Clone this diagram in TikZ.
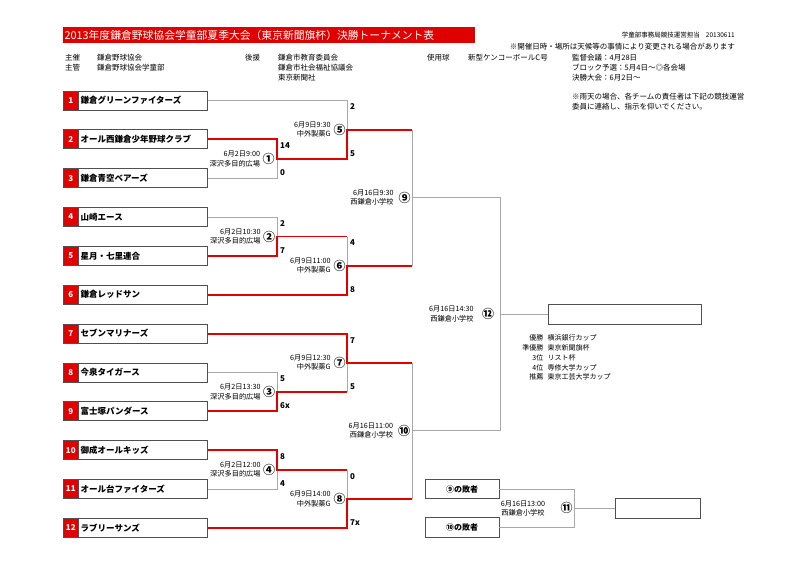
\documentclass[tikz,border=0pt]{standalone}
\usepackage{fontspec}
\setmainfont{Noto Sans CJK JP}
\usetikzlibrary{calc}
\definecolor{brk}{HTML}{E00000}
\definecolor{gln}{HTML}{A8A8A8}
\definecolor{bxl}{HTML}{505050}
\begin{document}
\begin{tikzpicture}[x=1pt,y=-1pt,
  teambox/.style={draw=bxl, line width=0.8pt, minimum width=144pt, minimum height=19pt, inner sep=0pt, anchor=west},
  numsq/.style={fill=brk, draw=bxl, line width=0.8pt, minimum width=15.5pt, minimum height=19pt, inner sep=0pt, text=white, font=\bfseries\fontsize{8}{8}\selectfont},
  tname/.style={anchor=west, inner sep=0pt, font=\bfseries\fontsize{8.5}{9}\selectfont},
  hd/.style={anchor=west, inner sep=0pt, font=\fontsize{7.5}{8}\selectfont},
  gl/.style={draw=gln, line width=0.9pt},
  rl/.style={draw=brk, line width=1.9pt},
  score/.style={anchor=west, inner sep=0pt, font=\bfseries\fontsize{8}{8}\selectfont},
  circ/.style={inner sep=0pt, font=\bfseries\fontsize{12}{12}\selectfont},
  dl/.style={anchor=east, inner sep=0pt, align=right, font=\fontsize{7.2}{9.5}\selectfont},
  plainbox/.style={draw=bxl, line width=0.8pt, inner sep=0pt},
  prl/.style={anchor=east, inner sep=0pt, font=\fontsize{7}{8}\selectfont},
  prv/.style={anchor=west, inner sep=0pt, font=\fontsize{7}{8}\selectfont}
]
\useasboundingbox[fill=white] (0,0) rectangle (800,566);

% title
\node[fill=brk, minimum width=412pt, minimum height=16pt, inner sep=0pt, anchor=north west] (titlebar) at (63,27) {};
\node[anchor=west, inner sep=0pt, text=white, font=\fontsize{10.8}{12}\selectfont] (title) at (64.5,35) {2013年度鎌倉野球協会学童部夏季大会（東京新聞旗杯）決勝トーナメント表};
\node[anchor=east, inner sep=0pt, font=\fontsize{6.5}{7}\selectfont] (staff) at (735,35) {学童部事務局競技運営担当\hspace{6pt}20130611};
\node[anchor=east, inner sep=0pt, font=\fontsize{7.5}{8}\selectfont] (note1) at (735,47) {※開催日時・場所は天候等の事情により変更される場合があります};

% header
\node[hd] (h1) at (65,58) {主催};
\node[hd] (h2) at (97,58) {鎌倉野球協会};
\node[hd] (h3) at (65,68) {主管};
\node[hd] (h4) at (97,68) {鎌倉野球協会学童部};
\node[hd] (h5) at (245,58) {後援};
\node[hd] (h6) at (278,58) {鎌倉市教育委員会};
\node[hd] (h7) at (278,68) {鎌倉市社会福祉協議会};
\node[hd] (h8) at (278,78) {東京新聞社};
\node[hd] (h9) at (427,58) {使用球};
\node[hd] (h10) at (468,58) {新型ケンコーボールC号};
\node[hd] (h11) at (572,58) {監督会議：4月28日};
\node[hd] (h12) at (572,68) {ブロック予選：5月4日～◎各会場};
\node[hd] (h13) at (572,78) {決勝大会：6月2日～};
\node[hd] (h14) at (572,97) {※雨天の場合、各チームの責任者は下記の競技運営};
\node[hd] (h15) at (572,107) {委員に連絡し、指示を仰いでください。};

% teams
\foreach \i/\nm in {1/鎌倉グリーンファイターズ, 2/オール西鎌倉少年野球クラブ, 3/鎌倉青空ベアーズ, 4/山崎エース, 5/星月・七里連合, 6/鎌倉レッドサン, 7/セブンマリナーズ, 8/今泉タイガース, 9/富士塚パンダース, 10/御成オールキッズ, 11/オール台ファイターズ, 12/ラブリーサンズ}{
  \pgfmathsetmacro{\yy}{100.5+(\i-1)*38.85}
  \node[teambox] (t\i) at (62.7,\yy) {};
  \node[numsq, anchor=west] (q\i) at (t\i.west) {\i};
  \node[tname] (n\i) at (80.5,\yy) {\nm};
}

% junctions
\coordinate (m1) at (277,158.8);
\coordinate (m2) at (277,236.5);
\coordinate (m3) at (277,391.9);
\coordinate (m4) at (277,469.6);
\coordinate (m5) at (347,129.6);
\coordinate (m6) at (347,265.6);
\coordinate (m7) at (347,362.7);
\coordinate (m8) at (347,498.7);
\coordinate (m9) at (412,197.6);
\coordinate (m10) at (412,430.7);
\coordinate (m12) at (500,314.2);
\coordinate (m11) at (574,508.3);

% boxes on the right
\node[plainbox, minimum width=153pt, minimum height=20pt] (w12) at (624.5,314.2) {};
\node[plainbox, minimum width=85pt, minimum height=20pt] (w11) at (657.5,508.3) {};
\node[plainbox, minimum width=74pt, minimum height=19.5pt, font=\bfseries\fontsize{8}{8}\selectfont] (l9) at (462,489) {⑨の敗者};
\node[plainbox, minimum width=74pt, minimum height=19.5pt, font=\bfseries\fontsize{8}{8}\selectfont] (l10) at (462,527.6) {⑩の敗者};

% grey lines
\draw[gl] (t1.east) -| (m5);
\draw[gl] (t3.east) -| (m1);
\draw[gl] (t4.east) -| (m2);
\draw[gl] (m2 -| m6) -- (m6);
\draw[gl] (t8.east) -| (m3);
\draw[gl] (m3 -| m7) -- (m7);
\draw[gl] (t11.east) -| (m4);
\draw[gl] (m4 -| m8) -- (m8);
\draw[gl] (m5 -| m9) -- (m6 -| m9);
\draw[gl] (m7 -| m10) -- (m8 -| m10);
\draw[gl] (m9) -| (m12);
\draw[gl] (m10) -| (m12);
\draw[gl] (m12) -- (w12.west);
\draw[gl] (l9.east) -| (m11);
\draw[gl] (l10.east) -| (m11);
\draw[gl] (m11) -- (w11.west);

% red lines (winners)
\draw[rl] (t2.east) -| (m1) -| (m5) -- (m5 -| m9);
\draw[rl] (t5.east) -| (m2) -- (m2 -| m6);
\draw[rl] (t6.east) -| (m6) -- (m6 -| m9);
\draw[rl] (t9.east) -| (m3) -- (m3 -| m7);
\draw[rl] (t7.east) -| (m7) -- (m7 -| m10);
\draw[rl] (t10.east) -| (m4) -- (m4 -| m8);
\draw[rl] (t12.east) -| (m8) -- (m8 -| m10);

% scores
\node[score] (s1a) at ($(t2.east -| m1)+(3,6.5)$) {14};
\node[score] (s1b) at ($(t3.east -| m1)+(3,-5.5)$) {0};
\node[score] (s2a) at ($(t4.east -| m2)+(3,6.5)$) {2};
\node[score] (s2b) at ($(t5.east -| m2)+(3,-5.5)$) {7};
\node[score] (s3a) at ($(t8.east -| m3)+(3,6.5)$) {5};
\node[score] (s3b) at ($(t9.east -| m3)+(3,-5.5)$) {6x};
\node[score] (s4a) at ($(t10.east -| m4)+(3,6.5)$) {8};
\node[score] (s4b) at ($(t11.east -| m4)+(3,-5.5)$) {4};
\node[score] (s5a) at ($(t1.east -| m5)+(3,6.5)$) {2};
\node[score] (s5b) at ($(m1 -| m5)+(3,-5.5)$) {5};
\node[score] (s6a) at ($(m2 -| m6)+(3,6.5)$) {4};
\node[score] (s6b) at ($(t6.east -| m6)+(3,-5.5)$) {8};
\node[score] (s7a) at ($(t7.east -| m7)+(3,6.5)$) {7};
\node[score] (s7b) at ($(m3 -| m7)+(3,-5.5)$) {5};
\node[score] (s8a) at ($(m4 -| m8)+(3,6.5)$) {0};
\node[score] (s8b) at ($(t12.east -| m8)+(3,-5.5)$) {7x};

% match numbers and labels
\foreach \m/\c/\d/\v/\off/\gap in {1/①/6月2日9:00/深沢多目的広場/8.5/2, 2/②/6月2日10:30/深沢多目的広場/8/2, 3/③/6月2日13:30/深沢多目的広場/8/2, 4/④/6月2日12:00/深沢多目的広場/8/2, 5/⑤/6月9日9:30/中外製薬G/7.5/2.5, 6/⑥/6月9日11:00/中外製薬G/7.5/2.5, 7/⑦/6月9日12:30/中外製薬G/7.5/2.5, 8/⑧/6月9日14:00/中外製薬G/7.5/2.5, 9/⑨/6月16日9:30/西鎌倉小学校/7.5/4.5, 10/⑩/6月16日11:00/西鎌倉小学校/8/4.5, 12/⑫/6月16日14:30/西鎌倉小学校/12/8}{
  \node[circ] (c\m) at ($(m\m)+(-\off,0)$) {\c};
  \node[dl] (d\m) at ($(c\m.west)+(-\gap,0)$) {\d\\\v};
}
\node[circ] (c11) at ($(m11)+(-7.5,0)$) {⑪};
\node[inner sep=0pt, align=center, font=\fontsize{7.2}{9.5}\selectfont] (d11) at (523,508.3) {6月16日13:00\\西鎌倉小学校};

% prizes
\foreach \k/\a/\b in {0/優勝/横浜銀行カップ, 1/準優勝/東京新聞旗杯, 2/3位/リスト杯, 3/4位/専修大学カップ, 4/推薦/東京工芸大学カップ}{
  \pgfmathsetmacro{\py}{338+\k*9.8}
  \node[prl] (pa\k) at (543.5,\py) {\a};
  \node[prv] (pb\k) at (547.5,\py) {\b};
}
\end{tikzpicture}
\end{document}
